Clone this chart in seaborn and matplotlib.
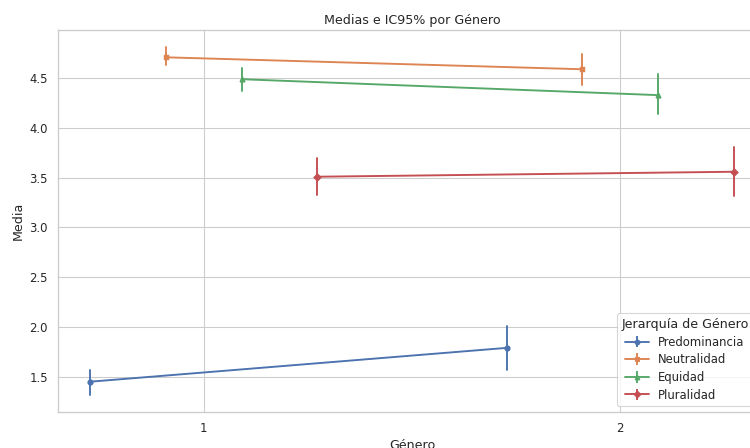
import numpy as np
import pandas as pd
import matplotlib
matplotlib.use("Agg")
import matplotlib.pyplot as plt
from matplotlib.lines import Line2D
from matplotlib.collections import LineCollection
from matplotlib.container import ErrorbarContainer
import seaborn as sns

# Summary statistics: mean and 95% CI bounds per gender group and hierarchy level
genero = [1, 2]
jerarquias = ["Predominancia", "Neutralidad", "Equidad", "Pluralidad"]
medias = {
    "Predominancia": [1.45, 1.79],
    "Neutralidad": [4.71, 4.59],
    "Equidad": [4.49, 4.33],
    "Pluralidad": [3.51, 3.56],
}
ic_inf = {
    "Predominancia": [1.32, 1.57],
    "Neutralidad": [4.63, 4.43],
    "Equidad": [4.37, 4.14],
    "Pluralidad": [3.33, 3.32],
}
ic_sup = {
    "Predominancia": [1.57, 2.01],
    "Neutralidad": [4.81, 4.74],
    "Equidad": [4.60, 4.54],
    "Pluralidad": [3.70, 3.81],
}
marcadores = ["o", "s", "^", "D"]

# Long table: each cell holds (lower, mean, upper); the median recovers the mean
# and the min/max recover the interval bounds.
filas = []
for j in jerarquias:
    for k, g in enumerate(genero):
        for v in (ic_inf[j][k], medias[j][k], ic_sup[j][k]):
            filas.append({"Género": g, "Jerarquía de Género": j, "Media": v})
df = pd.DataFrame(filas)

sns.set_theme(style="whitegrid")
DPI = 76
LW = 1.8
MS = 4.5
fig = plt.figure(figsize=(750 / DPI, 448 / DPI), dpi=DPI)
ax = fig.add_axes([58 / 750, 36 / 448, 708 / 750, 382 / 448])

sns.pointplot(
    data=df, x="Género", y="Media", hue="Jerarquía de Género",
    hue_order=jerarquias, native_scale=True, dodge=0.545,
    estimator="median", errorbar=lambda v: (v.min(), v.max()),
    markers=marcadores, linewidth=LW, markersize=MS,
    err_kws={"linewidth": LW}, ax=ax,
)

ax.set_xticks(genero)
ax.set_xticklabels([str(g) for g in genero])
ax.set_title("Medias e IC95% por Género")
ax.set_xlabel("Género")
ax.set_ylabel("Media")

# Legend entries drawn as error-bar symbols (line, marker and vertical bar)
paleta = sns.color_palette("deep", len(jerarquias))
handles = []
for c, m, j in zip(paleta, marcadores, jerarquias):
    linea = Line2D([], [], color=c, marker=m, markersize=MS, linewidth=LW)
    barras = LineCollection([], colors=[c], linewidths=LW)
    handles.append(ErrorbarContainer((linea, (), (barras,)),
                                     has_xerr=False, has_yerr=True, label=j))
ax.legend(handles=handles, labels=jerarquias, title="Jerarquía de Género",
          loc="lower right", bbox_to_anchor=(1 - 7 / 708, 0),
          labelspacing=0.4)

fig.savefig("out.png", dpi=DPI)
